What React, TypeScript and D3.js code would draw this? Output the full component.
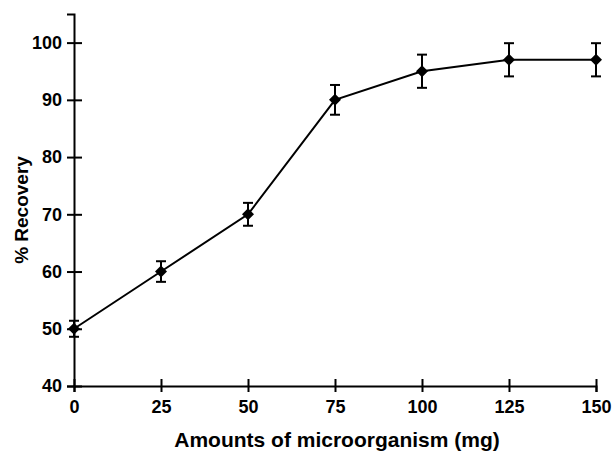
import React, { useRef, useEffect } from 'react';
import * as d3 from 'd3';

const amounts = [0, 25, 50, 75, 100, 125, 150];
const recovery = [50, 60, 70, 90, 95, 97, 97];
const errors = [1.4, 1.8, 2.0, 2.6, 2.9, 2.9, 2.9];
const xTicks = [0, 25, 50, 75, 100, 125, 150];
const yTicks = [40, 50, 60, 70, 80, 90, 100];

const FONT = '"Liberation Sans", Arial, sans-serif';

const App = () => {
    const svgRef = useRef<SVGSVGElement | null>(null);

    useEffect(() => {
        const svg = d3.select(svgRef.current);
        const width = 612;
        const height = 455;

        svg.selectAll('*').remove();
        svg.attr('width', width).attr('height', height);

        const x = d3.scaleLinear().domain([0, 150]).range([74, 596]);
        const y = d3.scaleLinear().domain([40, 105]).range([386, 14]);

        const data = amounts.map((a, i) => ({ a, r: recovery[i], e: errors[i] }));

        // x axis
        const xAxis = svg.append('g')
            .attr('transform', `translate(0, ${y(40)})`)
            .call(d3.axisBottom(x).tickValues(xTicks).tickSizeOuter(0).tickSize(6).tickPadding(8));
        xAxis.select('.domain').attr('stroke', '#000').attr('stroke-width', 2);
        xAxis.selectAll('.tick line').attr('y1', -7).attr('y2', 6).attr('stroke', '#000').attr('stroke-width', 2);
        xAxis.selectAll('.tick text')
            .attr('font-family', FONT).attr('font-size', 18).attr('font-weight', 'bold').attr('fill', '#000');

        // y axis
        const yAxis = svg.append('g')
            .attr('transform', `translate(${x(0)}, 0)`)
            .call(d3.axisLeft(y).tickValues(yTicks).tickSizeOuter(0).tickSize(7).tickPadding(5));
        yAxis.select('.domain').attr('stroke', '#000').attr('stroke-width', 2);
        yAxis.selectAll('.tick line').attr('x1', -7).attr('x2', 8).attr('stroke', '#000').attr('stroke-width', 2);
        yAxis.selectAll('.tick text')
            .attr('font-family', FONT).attr('font-size', 18).attr('font-weight', 'bold').attr('fill', '#000');

        // line
        const line = d3.line<{ a: number; r: number }>()
            .x(d => x(d.a))
            .y(d => y(d.r));

        svg.append('path')
            .datum(data)
            .attr('d', line)
            .attr('fill', 'none')
            .attr('stroke', '#000')
            .attr('stroke-width', 2);

        // error bars
        const eb = svg.append('g').attr('stroke', '#000').attr('stroke-width', 2);
        data.forEach(d => {
            const cx = x(d.a);
            eb.append('line').attr('x1', cx).attr('x2', cx).attr('y1', y(d.r + d.e)).attr('y2', y(d.r - d.e));
            eb.append('line').attr('x1', cx - 5).attr('x2', cx + 5).attr('y1', y(d.r + d.e)).attr('y2', y(d.r + d.e));
            eb.append('line').attr('x1', cx - 5).attr('x2', cx + 5).attr('y1', y(d.r - d.e)).attr('y2', y(d.r - d.e));
        });

        // markers (diamonds)
        svg.append('g')
            .selectAll('path')
            .data(data)
            .enter()
            .append('path')
            .attr('d', d3.symbol().type(d3.symbolSquare).size(72))
            .attr('transform', d => `translate(${x(d.a)}, ${y(d.r)}) rotate(45)`)
            .attr('fill', '#000');

        // titles
        svg.append('text')
            .attr('x', 337)
            .attr('y', 447)
            .attr('text-anchor', 'middle')
            .attr('font-family', FONT)
            .attr('font-size', 21)
            .attr('font-weight', 'bold')
            .text('Amounts of microorganism (mg)');

        svg.append('text')
            .attr('transform', 'translate(28, 210) rotate(-90)')
            .attr('text-anchor', 'middle')
            .attr('font-family', FONT)
            .attr('font-size', 19)
            .attr('font-weight', 'bold')
            .text('% Recovery');
    }, []);

    return (
        <svg ref={svgRef} style={{ position: 'absolute', left: 0, top: 0, background: '#fff' }}></svg>
    );
};

export default App;
